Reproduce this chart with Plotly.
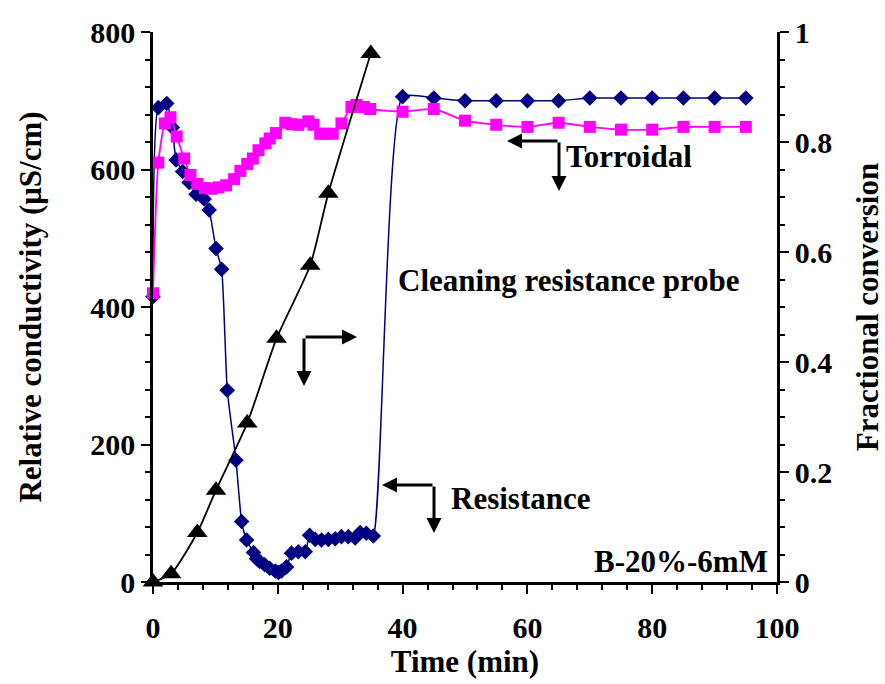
import plotly.graph_objects as go

# ---- data ----
t_res = [0, 0.85, 2.2, 3.1, 3.7, 4.75, 5.8, 6.9, 8.2, 9.0, 10.1, 11.0, 11.9, 13.3, 14.2,
         15.0, 16.1, 16.6, 17.1, 17.9, 18.7, 19.6, 20.1, 20.6, 21.4, 22.2, 23.3, 24.4,
         25.1, 26.0, 27.0, 28.1, 29.2, 30.2, 31.3, 32.4, 33.2, 34.2, 35.3,
         40, 45, 50, 55, 60, 65, 70, 75, 80, 85, 90, 95]
v_res = [415, 690, 696, 661, 614, 597, 581, 564, 557, 541, 485, 455, 279, 177, 88,
         61, 43, 34, 30, 25, 20, 16, 14, 16, 22, 42, 44, 44,
         68, 62, 61, 62, 63, 66, 66, 64, 72, 71, 67,
         706, 704, 700, 700, 700, 700, 704, 704, 704, 704, 704, 704]

t_tor = [0, 0.85, 1.9, 2.8, 3.8, 5.0, 6.0, 7.1, 8.3, 9.4, 10.5, 11.7, 13.0, 14.0, 15.1,
         16.0, 16.9, 18.0, 18.7, 19.7, 21.2, 22.2, 23.3, 24.9, 25.7, 26.8, 27.7, 28.8,
         30.2, 31.8, 32.6, 33.8, 34.8, 40, 45, 50, 55, 60, 65, 70, 75, 80, 85, 90, 95]
v_tor = [420, 610, 667, 676, 648, 616, 592, 579, 573, 572, 574, 577, 586, 598, 608,
         616, 628, 638, 645, 653, 668, 666, 665, 670, 665, 652, 652, 652,
         667, 691, 694, 691, 688, 684, 688, 671, 665, 662, 668, 662, 658, 658, 662, 662, 662]

t_conv = [0, 2.9, 7.1, 10.1, 15.1, 19.8, 25.2, 28.1, 34.9]
f_conv = [0, 0.015, 0.09, 0.167, 0.289, 0.443, 0.576, 0.707, 0.961]

x_ticks = [0, 20, 40, 60, 80, 100]
y_ticks = [0, 200, 400, 600, 800]
y2_ticks = [0, 0.2, 0.4, 0.6, 0.8, 1]
y2_labels = ["0", "0.2", "0.4", "0.6", "0.8", "1"]

FONT = "Liberation Serif"

fig = go.Figure()
fig.add_trace(go.Scatter(x=t_res, y=v_res, mode="lines+markers", name="Resistance",
                         line=dict(color="#000080", width=1.5, shape="spline", smoothing=0.5),
                         marker=dict(symbol="diamond", size=12, color="#000080"),
                         cliponaxis=False))
fig.add_trace(go.Scatter(x=t_tor, y=v_tor, mode="lines+markers", name="Torroidal",
                         line=dict(color="#FF00FF", width=1.8, shape="spline", smoothing=0.6),
                         marker=dict(symbol="square", size=12, color="#FF00FF"),
                         cliponaxis=False))
fig.add_trace(go.Scatter(x=t_conv, y=f_conv, mode="lines+markers", name="Conversion",
                         yaxis="y2",
                         line=dict(color="black", width=1.8, shape="spline", smoothing=0.6),
                         marker=dict(symbol="triangle-up", size=18, color="black"),
                         cliponaxis=False))

tickfont = dict(family=FONT, size=30, color="black", weight="bold")
titlefont = dict(family=FONT, size=31, color="black", weight="bold")
axis_common = dict(showgrid=False, zeroline=False, showline=True, linecolor="black",
                   linewidth=2.5, ticks="outside", ticklen=9, tickwidth=2, tickcolor="black",
                   tickfont=tickfont, automargin=False)

fig.update_layout(
    width=885, height=684,
    margin=dict(l=153, r=108, t=32, b=102),
    paper_bgcolor="white", plot_bgcolor="white",
    showlegend=False,
    xaxis=dict(range=[0, 100], tickvals=x_ticks, ticklabelstandoff=8,
               minor=dict(dtick=4, ticklen=5, tickwidth=1.5, tickcolor="black", ticks="outside"),
               title=dict(text="Time (min)", standoff=8, font=titlefont),
               **axis_common),
    yaxis=dict(range=[0, 800], tickvals=y_ticks,
               minor=dict(dtick=40, ticklen=5, tickwidth=1.5, tickcolor="black", ticks="outside"),
               title=dict(text="Relative conductivity (μS/cm)", standoff=40, font=titlefont),
               **axis_common),
    yaxis2=dict(range=[0, 1], tickvals=y2_ticks, ticktext=y2_labels, overlaying="y", side="right",
                minor=dict(dtick=0.05, ticklen=5, tickwidth=1.5, tickcolor="black", ticks="outside"),
                title=dict(text="Fractional conversion", standoff=28, font=titlefont),
                **axis_common),
)

W, H = 624.0, 550.0
def px(x):
    return (x - 153) / W
def py(y):
    return (582 - y) / H

tf = dict(family=FONT, size=31, color="black", weight="bold")
ann = []
def arrow(tipx, tipy, tailx, taily):
    ann.append(dict(xref="paper", yref="paper", x=px(tipx), y=py(tipy),
                    ax=tailx - tipx, ay=taily - tipy, axref="pixel", ayref="pixel",
                    showarrow=True, arrowhead=2, arrowsize=1.0, arrowwidth=3,
                    arrowcolor="black", text=""))

# Torroidal arrows
arrow(507, 141, 559, 141)
arrow(559, 191, 559, 141)
# conversion arrows
arrow(357, 337, 304, 337)
arrow(304, 386, 304, 337)
# resistance arrows
arrow(382, 485, 434, 485)
arrow(434, 533, 434, 485)

ann.append(dict(xref="paper", yref="paper", x=px(564), y=py(156), xanchor="left", yanchor="middle",
                text="Torroidal", showarrow=False, font=tf))
ann.append(dict(xref="paper", yref="paper", x=px(396), y=py(280), xanchor="left", yanchor="middle",
                text="Cleaning resistance probe", showarrow=False, font=tf))
ann.append(dict(xref="paper", yref="paper", x=px(449), y=py(498), xanchor="left", yanchor="middle",
                text="Resistance", showarrow=False, font=tf))
ann.append(dict(xref="paper", yref="paper", x=px(770), y=py(561), xanchor="right", yanchor="middle",
                text="B-20%-6mM", showarrow=False, font=tf))
fig.update_layout(annotations=ann)

fig.write_html("out.html")
